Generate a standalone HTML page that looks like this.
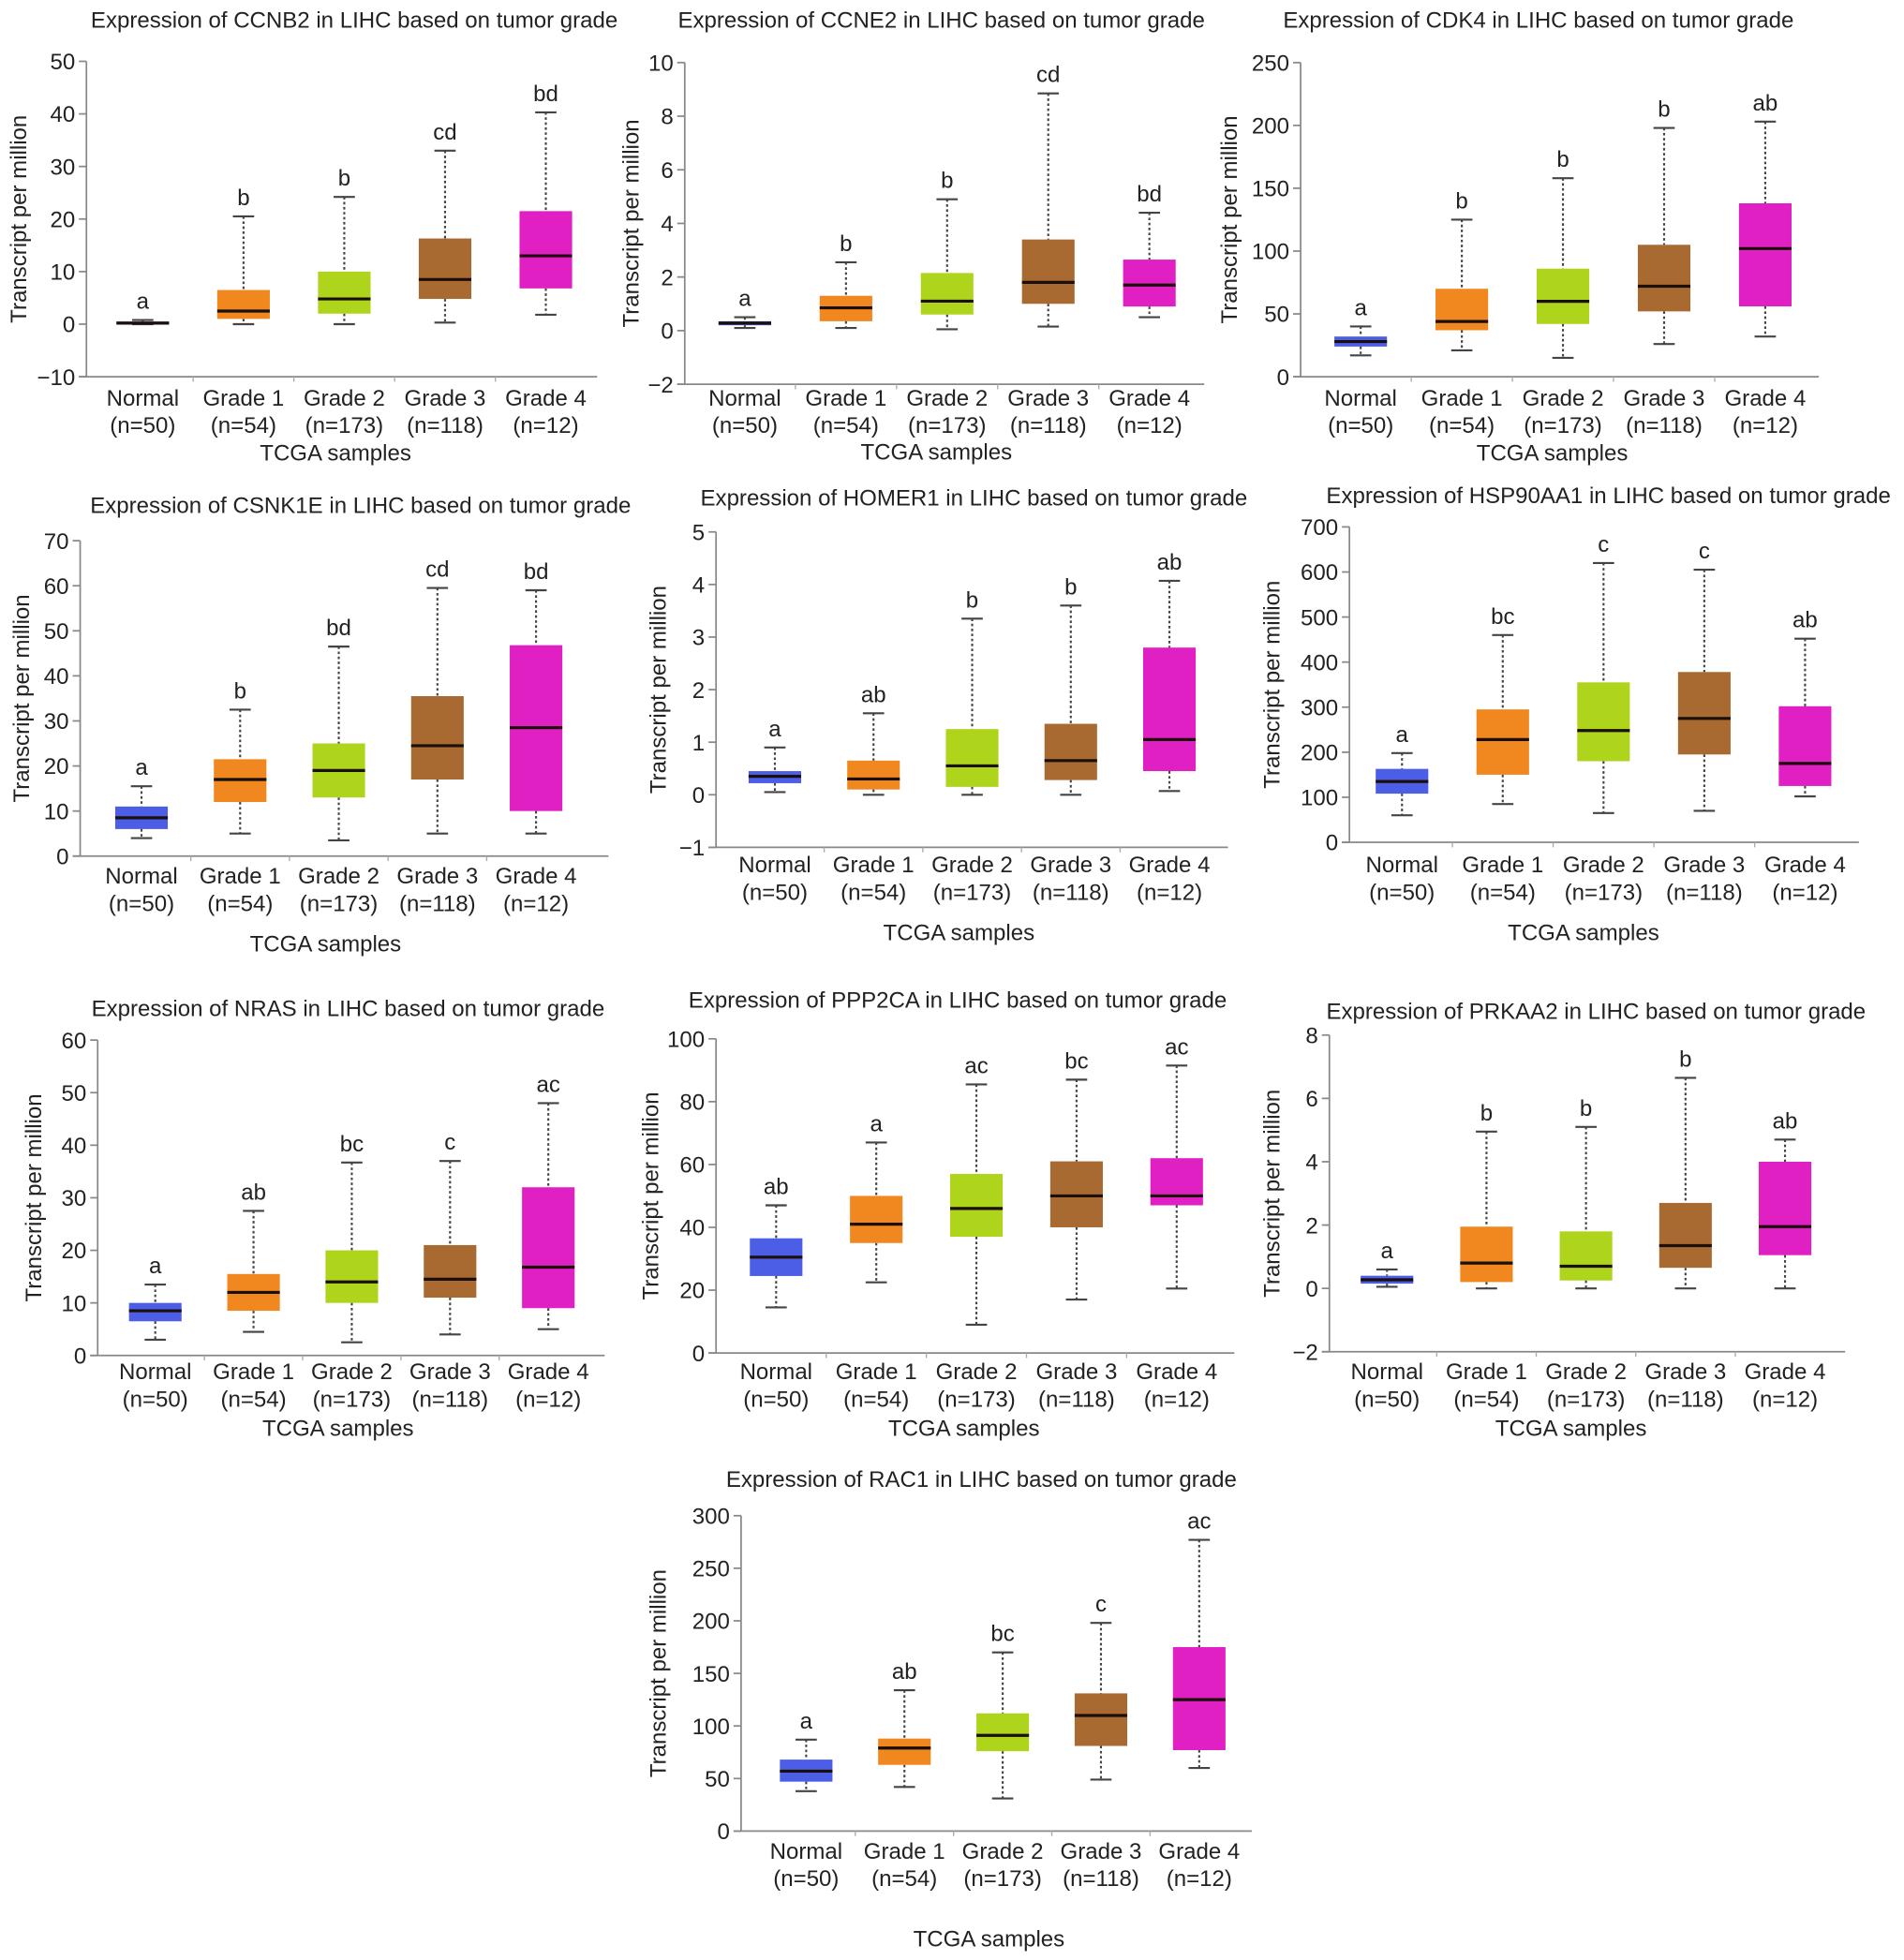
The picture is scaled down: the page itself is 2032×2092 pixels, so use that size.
<!DOCTYPE html>
<html><head><meta charset="utf-8"><style>
html,body{margin:0;padding:0;background:#fff;}
svg{display:block;}
text{font-family:"Liberation Sans",Arial,sans-serif;fill:#222;}
</style></head><body>
<svg id="fig" width="2032" height="2092" viewBox="0 0 1521 1566" xmlns="http://www.w3.org/2000/svg"></svg>
<script>
const categories=["Normal","Grade 1","Grade 2","Grade 3","Grade 4"];
const sampleSizes=["(n=50)","(n=54)","(n=173)","(n=118)","(n=12)"];

const ccnb2Lo=[0,0,0,0.3,1.8], ccnb2Q1=[0,1,2,4.8,6.8], ccnb2Med=[0.2,2.5,4.8,8.5,13], ccnb2Q3=[0.5,6.5,10,16.3,21.5], ccnb2Hi=[0.8,20.5,24.2,33,40.3];
const ccnb2Letters=["a","b","b","cd","bd"], ccnb2Ticks=[-10,0,10,20,30,40,50];

const ccne2Lo=[0.1,0.1,0.05,0.15,0.5], ccne2Q1=[0.2,0.35,0.6,1.0,0.9], ccne2Med=[0.28,0.85,1.1,1.8,1.7], ccne2Q3=[0.35,1.3,2.15,3.4,2.65], ccne2Hi=[0.5,2.55,4.9,8.85,4.4];
const ccne2Letters=["a","b","b","cd","bd"], ccne2Ticks=[-2,0,2,4,6,8,10];

const cdk4Lo=[17,21,15,26,32], cdk4Q1=[24,37,42,52,56], cdk4Med=[28,44,60,72,102], cdk4Q3=[32,70,86,105,138], cdk4Hi=[40,125,158,198,203];
const cdk4Letters=["a","b","b","b","ab"], cdk4Ticks=[0,50,100,150,200,250];

const csnk1eLo=[4,5,3.5,5,5], csnk1eQ1=[6,12,13,17,10], csnk1eMed=[8.5,17,19,24.5,28.5], csnk1eQ3=[11,21.5,25,35.5,46.8], csnk1eHi=[15.5,32.5,46.5,59.5,59];
const csnk1eLetters=["a","b","bd","cd","bd"], csnk1eTicks=[0,10,20,30,40,50,60,70];

const homer1Lo=[0.05,0,0,0,0.07], homer1Q1=[0.22,0.1,0.15,0.28,0.45], homer1Med=[0.35,0.3,0.55,0.65,1.05], homer1Q3=[0.45,0.65,1.25,1.35,2.8], homer1Hi=[0.9,1.55,3.35,3.6,4.07];
const homer1Letters=["a","ab","b","b","ab"], homer1Ticks=[-1,0,1,2,3,4,5];

const hspLo=[60,85,65,70,102], hspQ1=[108,150,180,195,125], hspMed=[135,228,248,275,175], hspQ3=[163,295,355,378,302], hspHi=[198,460,620,605,452];
const hspLetters=["a","bc","c","c","ab"], hspTicks=[0,100,200,300,400,500,600,700];

const nrasLo=[3,4.5,2.5,4,5], nrasQ1=[6.5,8.5,10,11,9], nrasMed=[8.5,12,14,14.5,16.8], nrasQ3=[10,15.5,20,21,32], nrasHi=[13.5,27.5,36.7,37,48];
const nrasLetters=["a","ab","bc","c","ac"], nrasTicks=[0,10,20,30,40,50,60];

const ppp2caLo=[14.5,22.5,9,17,20.5], ppp2caQ1=[24.5,35,37,40,47], ppp2caMed=[30.5,41,46,50,50], ppp2caQ3=[36.5,50,57,61,62], ppp2caHi=[47,67,85.5,87,91.5];
const ppp2caLetters=["ab","a","ac","bc","ac"], ppp2caTicks=[0,20,40,60,80,100];

const prkaa2Lo=[0.05,0,0,0,0], prkaa2Q1=[0.15,0.2,0.25,0.65,1.05], prkaa2Med=[0.27,0.8,0.7,1.35,1.95], prkaa2Q3=[0.4,1.95,1.8,2.7,4], prkaa2Hi=[0.6,4.95,5.1,6.65,4.7];
const prkaa2Letters=["a","b","b","b","ab"], prkaa2Ticks=[-2,0,2,4,6,8];

const rac1Lo=[38,42,31,49,60], rac1Q1=[47,63,76,81,77], rac1Med=[57,79,91,110,125], rac1Q3=[68,88,112,131,175], rac1Hi=[87,134,170,198,277];
const rac1Letters=["a","ab","bc","c","ac"], rac1Ticks=[0,50,100,150,200,250,300];

const colors=["#4c5ee6","#f0871f","#aed51b","#a86a31","#e020c2"];

const panels=[
 {gene:"CCNB2",lo:ccnb2Lo,q1:ccnb2Q1,med:ccnb2Med,q3:ccnb2Q3,hi:ccnb2Hi,let:ccnb2Letters,ticks:ccnb2Ticks,ax:69,yT:49,yB:301,xEnd:477,cx0:114,dx:80.5,tx:283,ty:22,xl:318,ylx:21,tcx:268,tcy:368},
 {gene:"CCNE2",lo:ccne2Lo,q1:ccne2Q1,med:ccne2Med,q3:ccne2Q3,hi:ccne2Hi,let:ccne2Letters,ticks:ccne2Ticks,ax:547,yT:50,yB:307,xEnd:962,cx0:595,dx:80.8,tx:752,ty:22,xl:318,ylx:510,tcx:748,tcy:367},
 {gene:"CDK4",lo:cdk4Lo,q1:cdk4Q1,med:cdk4Med,q3:cdk4Q3,hi:cdk4Hi,let:cdk4Letters,ticks:cdk4Ticks,ax:1039,yT:50,yB:301,xEnd:1453,cx0:1087,dx:80.8,tx:1229,ty:22,xl:318,ylx:988,tcx:1240,tcy:368},
 {gene:"CSNK1E",lo:csnk1eLo,q1:csnk1eQ1,med:csnk1eMed,q3:csnk1eQ3,hi:csnk1eHi,let:csnk1eLetters,ticks:csnk1eTicks,ax:64,yT:432,yB:684,xEnd:486,cx0:113,dx:78.8,tx:288,ty:410,xl:700,ylx:23,tcx:260,tcy:760},
 {gene:"HOMER1",lo:homer1Lo,q1:homer1Q1,med:homer1Med,q3:homer1Q3,hi:homer1Hi,let:homer1Letters,ticks:homer1Ticks,ax:572,yT:425,yB:677,xEnd:981,cx0:619,dx:78.8,tx:778,ty:404,xl:691,ylx:532,tcx:766,tcy:751},
 {gene:"HSP90AA1",lo:hspLo,q1:hspQ1,med:hspMed,q3:hspQ3,hi:hspHi,let:hspLetters,ticks:hspTicks,ax:1078,yT:421,yB:673,xEnd:1485,cx0:1120,dx:80.5,tx:1285,ty:402,xl:691,ylx:1022,tcx:1265,tcy:751},
 {gene:"NRAS",lo:nrasLo,q1:nrasQ1,med:nrasMed,q3:nrasQ3,hi:nrasHi,let:nrasLetters,ticks:nrasTicks,ax:78,yT:831,yB:1083,xEnd:483,cx0:124,dx:78.5,tx:278,ty:812,xl:1096,ylx:33,tcx:270,tcy:1147},
 {gene:"PPP2CA",lo:ppp2caLo,q1:ppp2caQ1,med:ppp2caMed,q3:ppp2caQ3,hi:ppp2caHi,let:ppp2caLetters,ticks:ppp2caTicks,ax:572,yT:830,yB:1081,xEnd:986,cx0:620,dx:80,tx:765,ty:805,xl:1096,ylx:526,tcx:770,tcy:1147},
 {gene:"PRKAA2",lo:prkaa2Lo,q1:prkaa2Q1,med:prkaa2Med,q3:prkaa2Q3,hi:prkaa2Hi,let:prkaa2Letters,ticks:prkaa2Ticks,ax:1062,yT:827,yB:1080,xEnd:1474,cx0:1108,dx:79.5,tx:1275,ty:814,xl:1096,ylx:1022,tcx:1255,tcy:1147},
 {gene:"RAC1",lo:rac1Lo,q1:rac1Q1,med:rac1Med,q3:rac1Q3,hi:rac1Hi,let:rac1Letters,ticks:rac1Ticks,ax:592,yT:1211,yB:1463,xEnd:1000,cx0:644,dx:78.5,tx:784,ty:1188,xl:1479,ylx:532,tcx:790,tcy:1555}
];

const FS=18;
const NS="http://www.w3.org/2000/svg";
const svg=document.getElementById('fig');
function mk(tag,attrs,parent,txt){
  const e=document.createElementNS(NS,tag);
  for(const k in attrs)e.setAttribute(k,attrs[k]);
  if(txt!==undefined)e.textContent=txt;
  parent.appendChild(e);return e;
}
function fmt(v){return v<0?"\u2212"+Math.abs(v):String(v);}

panels.forEach(p=>{
  const g=mk('g',{},svg);
  
  
  const tMin=p.ticks[0],tMax=p.ticks[p.ticks.length-1];
  const y=v=>p.yB-(v-tMin)/(tMax-tMin)*(p.yB-p.yT);
  const xc=i=>p.cx0+i*p.dx;
  const title=mk('text',{x:p.tx,y:p.ty,'text-anchor':'middle','font-size':FS},g,'Expression of '+p.gene+' in LIHC based on tumor grade');
  
  
  const yaxis=mk('line',{x1:p.ax,y1:p.yT,x2:p.ax,y2:p.yB,stroke:'#888','stroke-width':1.3},g);
  
  
  const xaxis=mk('line',{x1:p.ax-6,y1:p.yB,x2:p.xEnd,y2:p.yB,stroke:'#888','stroke-width':1.3},g);
  
  
  p.ticks.forEach(t=>{
    mk('line',{x1:p.ax-6,y1:y(t),x2:p.ax,y2:y(t),stroke:'#888','stroke-width':1.3},g);
    const tl=mk('text',{x:p.ax-9,y:y(t)+6.5,'text-anchor':'end','font-size':FS},g,fmt(t));
    
    
  });
  for(let i=1;i<5;i++){const bx=(xc(i-1)+xc(i))/2;mk('line',{x1:bx,y1:p.yB,x2:bx,y2:p.yB+4,stroke:'#aaa','stroke-width':1},g);}
  const yl=mk('text',{x:p.ylx,y:(p.yT+p.yB)/2,'text-anchor':'middle','font-size':FS,transform:`rotate(-90 ${p.ylx} ${(p.yT+p.yB)/2})`},g,'Transcript per million');
  
  
  const xt=mk('text',{x:p.tcx,y:p.tcy,'text-anchor':'middle','font-size':FS},g,'TCGA samples');
  
  
  categories.forEach((c,i)=>{
    const cx=xc(i);
    const l1=mk('text',{x:cx,y:p.xl+6,'text-anchor':'middle','font-size':FS},g,c);
    
    
    const l2=mk('text',{x:cx,y:p.xl+28,'text-anchor':'middle','font-size':FS},g,sampleSizes[i]);
    
    
    const bg=mk('g',{},g);
    
    
    mk('line',{x1:cx,y1:y(p.hi[i]),x2:cx,y2:y(p.q3[i]),stroke:'#444','stroke-width':1.6,'stroke-dasharray':'2,2'},bg);
    mk('line',{x1:cx,y1:y(p.q1[i]),x2:cx,y2:y(p.lo[i]),stroke:'#444','stroke-width':1.6,'stroke-dasharray':'2,2'},bg);
    mk('line',{x1:cx-8.5,y1:y(p.hi[i]),x2:cx+8.5,y2:y(p.hi[i]),stroke:'#444','stroke-width':1.6},bg);
    mk('line',{x1:cx-8.5,y1:y(p.lo[i]),x2:cx+8.5,y2:y(p.lo[i]),stroke:'#444','stroke-width':1.6},bg);
    const top=y(p.q3[i]),bot=y(p.q1[i]);
    mk('rect',{x:cx-21,y:top,width:42,height:Math.max(bot-top,1.5),fill:colors[i]},bg);
    mk('line',{x1:cx-21,y1:y(p.med[i]),x2:cx+21,y2:y(p.med[i]),stroke:'#1a0f0a','stroke-width':2.4},bg);
    const lt=mk('text',{x:cx,y:y(p.hi[i])-9,'text-anchor':'middle','font-size':FS},g,p.let[i]);
    
    
  });
});
</script>
</body></html>
